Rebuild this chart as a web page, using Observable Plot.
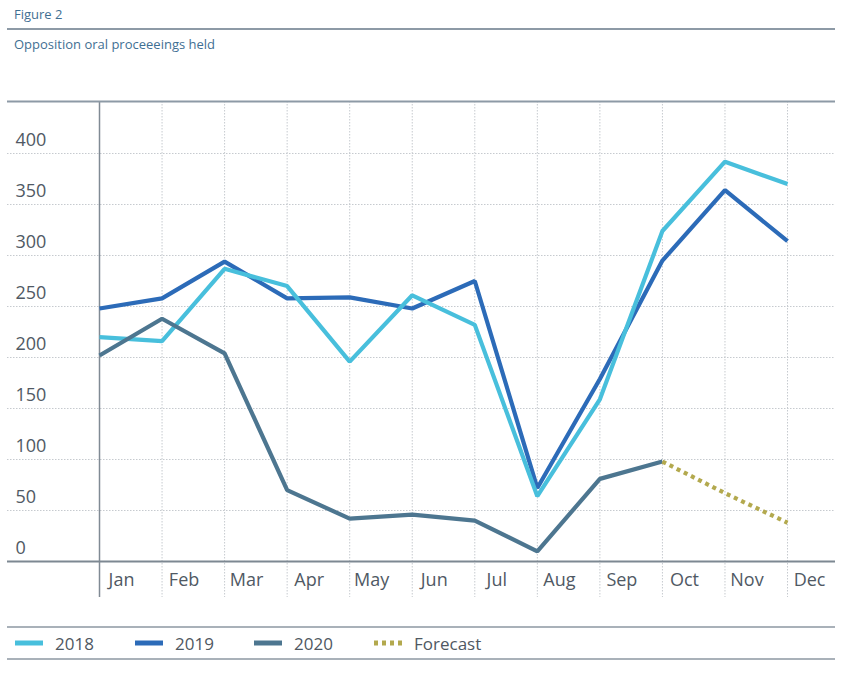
<!DOCTYPE html>
<html>
<head>
<meta charset="utf-8">
<script src="https://cdn.jsdelivr.net/npm/d3@7"></script>
<script src="https://cdn.jsdelivr.net/npm/@observablehq/plot@0.6"></script>
<style>
  body { margin: 0; background: #fff; font-family: "Open Sans", sans-serif; }
  #wrap { position: relative; width: 845px; height: 677px; }
  .hdr { position: absolute; left: 14px; font-size: 13px; color: #3f6f93; line-height: 1; }
  .hline { position: absolute; left: 7px; width: 828px; height: 2px; background: #8d9aa6; }
  #chart { position: absolute; left: 0; top: 60px; }
  .leg { position: absolute; top: 643px; transform: translateY(-50%); font-size: 17px; color: #4f5862; line-height: 1; }
  .sw { position: absolute; top: 640px; }
</style>
</head>
<body>
<div id="wrap">
  <div class="hdr" style="top:8px">Figure 2</div>
  <div class="hline" style="top:28px"></div>
  <div class="hdr" style="top:38px">Opposition oral proceeeings held</div>
  <div id="chart"></div>
  <div class="hline" style="top:626px;background:#a9b1b9"></div>
  <div class="hline" style="top:658px;background:#a9b1b9"></div>
  <div id="legend"></div>
</div>
<script>
const months = ["Jan","Feb","Mar","Apr","May","Jun","Jul","Aug","Sep","Oct","Nov","Dec"];
const yTicks = [0, 50, 100, 150, 200, 250, 300, 350, 400];
const v2018 = [220, 216, 287, 270, 196, 261, 232, 64, 159, 324, 392, 370];
const v2019 = [248, 258, 294, 258, 259, 248, 275, 72, 179, 295, 364, 314];
const v2020 = [202, 238, 204, 70, 42, 46, 40, 10, 81, 98];
const forecast = [98, 67, 38];          // Oct, Nov, Dec
const forecastStart = 9;                 // index of Oct
const seriesNames = ["2018", "2019", "2020", "Forecast"];
const seriesColors = ["#48bfdc", "#2c6bb8", "#4d7690", "#b3a94e"];

const rows = [];
[[v2019, "2019"], [v2018, "2018"], [v2020, "2020"]].forEach(([arr, name]) =>
  arr.forEach((v, i) => rows.push({i, value: v, series: name})));
const fc = forecast.map((v, k) => ({i: forecastStart + k, value: v, series: "Forecast"}));

const xDomain = [-1.471, 11.767];
const yDomain = [-35.29, 450.98];

const chart = Plot.plot({
  width: 845,
  height: 545,
  marginTop: 41,
  marginBottom: 8,
  marginLeft: 7,
  marginRight: 10,
  x: {type: "linear", domain: xDomain, axis: null},
  y: {type: "linear", domain: yDomain, axis: null},
  color: {domain: seriesNames, range: seriesColors},
  style: {fontFamily: "Open Sans, sans-serif", background: "transparent"},
  marks: [
    Plot.ruleY(yTicks.filter(d => d > 0), {stroke: "#c6cacf", strokeWidth: 1, strokeDasharray: "1.5,1.5"}),
    Plot.ruleX(d3.range(1, months.length), {stroke: "#c6cacf", strokeWidth: 1, strokeDasharray: "1.5,1.5"}),
    Plot.ruleX([0], {stroke: "#808a94", strokeWidth: 1.5}),
    Plot.ruleY([0], {stroke: "#7d8892", strokeWidth: 2}),
    Plot.ruleY([yDomain[1]], {stroke: "#8d9aa6", strokeWidth: 2}),
    Plot.line(rows, {x: "i", y: "value", z: "series", stroke: "series", strokeWidth: 4.2, strokeLinejoin: "miter", strokeLinecap: "butt"}),
    Plot.line(fc, {x: "i", y: "value", stroke: "series", strokeWidth: 4.2, strokeDasharray: "4,4", strokeLinecap: "butt"}),
    Plot.text(yTicks, {y: d => d, text: d => String(d), frameAnchor: "left", textAnchor: "start", lineAnchor: "middle", dx: 8, dy: -13, fontSize: 18, fill: "#505964"}),
    Plot.text(months, {x: (d, i) => i, text: d => d, frameAnchor: "bottom", textAnchor: "middle", lineAnchor: "middle", dx: 22, dy: -17, fontSize: 18, fill: "#505964"})
  ]
});
document.getElementById("chart").appendChild(chart);

// Legend
const legX = [15, 135, 254, 374];
const legTextX = [55, 175, 294, 414];
const legend = document.getElementById("legend");
seriesNames.forEach((name, k) => {
  const sw = document.createElementNS("http://www.w3.org/2000/svg", "svg");
  sw.setAttribute("width", 28); sw.setAttribute("height", 6);
  sw.setAttribute("class", "sw");
  sw.style.left = legX[k] + "px";
  const ln = document.createElementNS("http://www.w3.org/2000/svg", "line");
  ln.setAttribute("x1", 0); ln.setAttribute("x2", 28);
  ln.setAttribute("y1", 3); ln.setAttribute("y2", 3);
  ln.setAttribute("stroke", seriesColors[k]);
  ln.setAttribute("stroke-width", 5);
  if (name === "Forecast") ln.setAttribute("stroke-dasharray", "4,4");
  sw.appendChild(ln);
  legend.appendChild(sw);
  const t = document.createElement("div");
  t.className = "leg";
  t.style.left = legTextX[k] + "px";
  t.textContent = name;
  legend.appendChild(t);
});
</script>
</body>
</html>
